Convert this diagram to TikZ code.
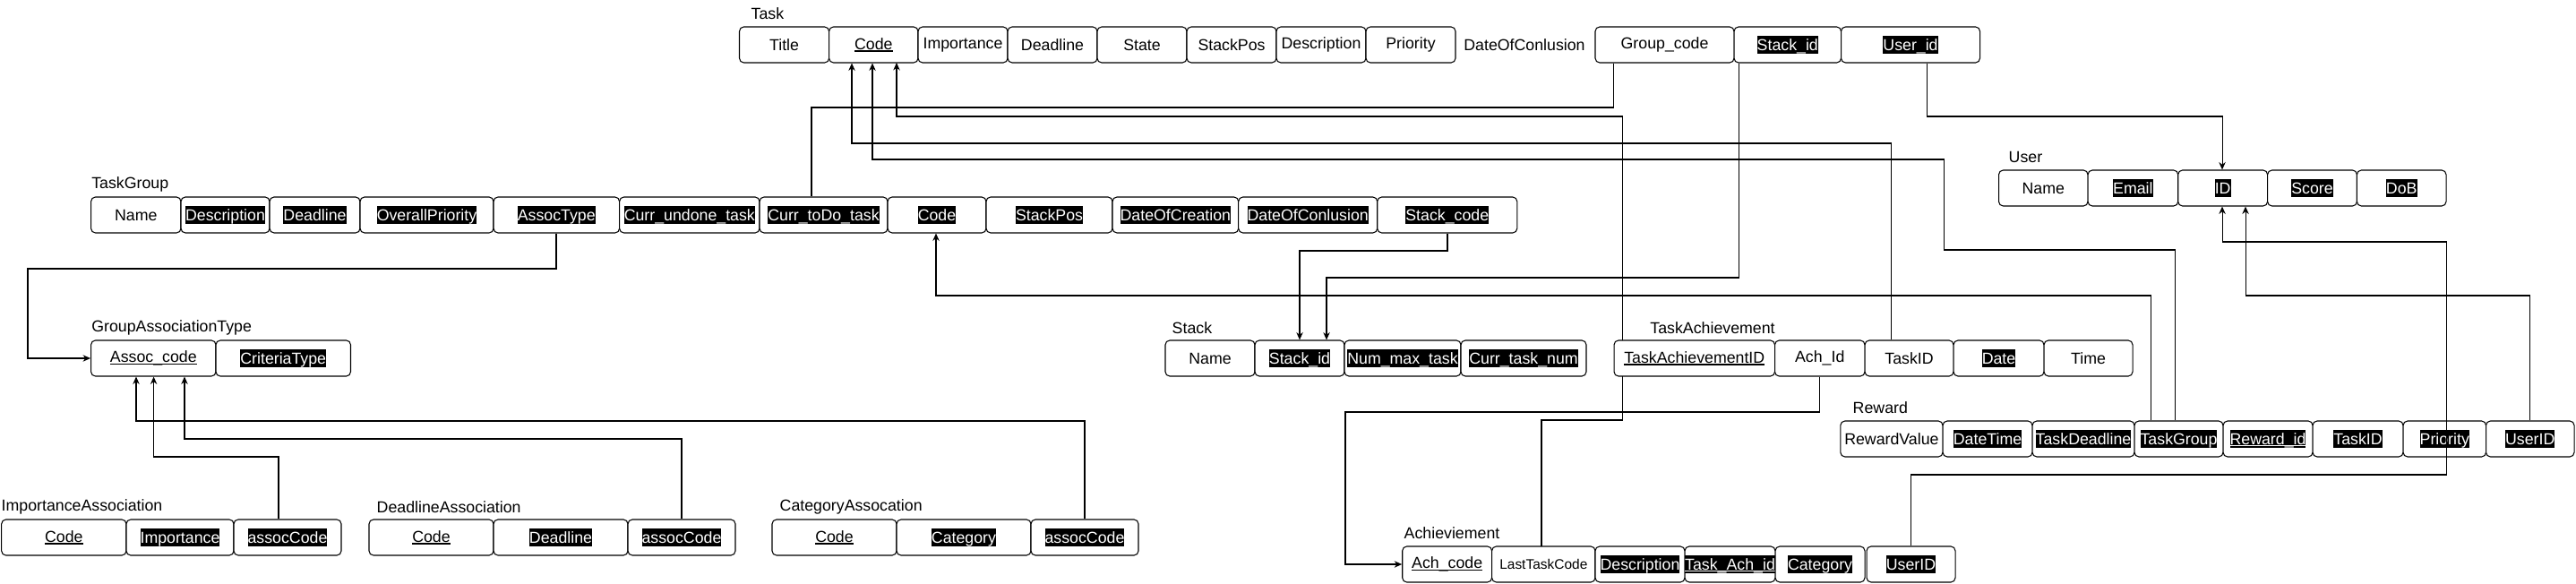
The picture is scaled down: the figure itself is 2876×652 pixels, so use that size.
\documentclass[tikz,border=0pt]{standalone}
\usepackage{fontspec}
\setmainfont{Liberation Sans}
\usetikzlibrary{arrows.meta}
\newdimen\pxu \pxu=0.01cm
\newcommand\fs{\fontsize{5.05pt}{6pt}\selectfont}
\newcommand\fss{\fontsize{4.4pt}{5.5pt}\selectfont}
\newsavebox\ulbox
\newcommand\ul[1]{\sbox\ulbox{#1}\rlap{\rule[-0.13em]{\wd\ulbox}{0.065em}}\usebox\ulbox}
\newcommand\hl[1]{{\setlength\fboxsep{0pt}\colorbox{black}{\textcolor{white}{\rule[-0.212em]{0pt}{1.117em}#1}}}}
\newcommand\fld[5]{\node[field, minimum width={(#3-#2)*\pxu}] (#1) at ({(#2+#3)/2},{#4+20}) {#5};}
\begin{document}
\begin{tikzpicture}[x=0.01cm, y=-0.01cm,
  field/.style={draw, line width=0.3pt, rounded corners=1.4pt, fill=white, inner sep=0pt, minimum height={40*\pxu}, font=\fs},
  lbl/.style={inner sep=0pt, anchor=west, font=\fs},
  conn/.style={line width=0.3pt},
  arr/.style={conn, -{Stealth[length=2.4pt,width=2.1pt]}}]
\useasboundingbox (0,0) rectangle (2876,652);

% ---------- labels ----------
\node[lbl] (lTask) at (838,15) {Task};
\node[lbl] (lGroup) at (101.6,206) {TaskGroup};
\node[lbl] (lAssoc) at (101.6,365.7) {GroupAssociationType};
\node[lbl] (lStack) at (1308,365.7) {Stack};
\node[lbl] (lTA) at (1841.7,365.7) {TaskAchievement};
\node[lbl] (lUser) at (2242,175) {User};
\node[lbl] (lReward) at (2068,455) {Reward};
\node[lbl] (lAch) at (1567,595) {Achieviement};
\node[lbl] (lImp) at (1,565.7) {ImportanceAssociation};
\node[lbl] (lDead) at (420,565.7) {DeadlineAssociation};
\node[lbl] (lCat) at (870,565.7) {CategoryAssocation};

% ---------- connector hidden behind a box ----------
\coordinate (pLast) at (1721,610);
\draw[arr] (pLast) |- (1811,469) |- (1001,130) -- (1001,70);

% ---------- Task ----------
\fld{tTitle}{825.5}{925.6}{30}{Title}
\fld{tCode}{925.6}{1025}{30}{\ul{Code}}
\fld{tImp}{1025}{1125}{30}{Importance}
\fld{tDead}{1125}{1225}{30}{Deadline}
\fld{tState}{1225}{1325}{30}{State}
\fld{tStackPos}{1325}{1425}{30}{StackPos}
\fld{tDesc}{1425}{1525}{30}{Description}
\fld{tPrio}{1525}{1625}{30}{Priority}
\node[inner sep=0pt, font=\fs] (tDoc) at (1702,50) {DateOfConlusion};
\fld{tGroup}{1781}{1936}{30}{Group\_code}
\fld{tStack}{1936}{2055.5}{30}{\hl{Stack\_id}}
\fld{tUser}{2055.5}{2210.5}{30}{\hl{User\_id}}

% ---------- TaskGroup ----------
\fld{gName}{101.6}{202}{220}{Name}
\fld{gDesc}{202}{301}{220}{\hl{Description}}
\fld{gDead}{301}{402}{220}{\hl{Deadline}}
\fld{gOver}{402}{551}{220}{\hl{OverallPriority}}
\fld{gAssoc}{551}{691.6}{220}{\hl{AssocType}}
\fld{gUndone}{691.6}{848}{220}{\hl{Curr\_undone\_task}}
\fld{gToDo}{848}{991}{220}{\hl{Curr\_toDo\_task}}
\fld{gCode}{991}{1101}{220}{\hl{Code}}
\fld{gStackPos}{1101}{1242}{220}{\hl{StackPos}}
\fld{gDoc}{1242}{1382.7}{220}{\hl{DateOfCreation}}
\fld{gDocl}{1382.7}{1537.7}{220}{\hl{DateOfConlusion}}
\fld{gStack}{1537.7}{1693.8}{220}{\hl{Stack\_code}}

% ---------- GroupAssociationType ----------
\fld{aCode}{101.6}{241}{380}{\ul{Assoc\_code}}
\fld{aCrit}{241}{391.5}{380}{\hl{CriteriaType}}

% ---------- Stack ----------
\fld{sName}{1301}{1401}{380}{Name}
\fld{sId}{1401}{1501}{380}{\hl{Stack\_id}}
\fld{sMax}{1501}{1631}{380}{\hl{Num\_max\_task}}
\fld{sCurr}{1631}{1771}{380}{\hl{Curr\_task\_num}}

% ---------- TaskAchievement ----------
\fld{taId}{1802}{1981.5}{380}{\ul{TaskAchievementID}}
\fld{taAch}{1981.5}{2082}{380}{Ach\_Id}
\fld{taTask}{2082}{2181}{380}{TaskID}
\fld{taDate}{2181}{2282}{380}{\hl{Date}}
\fld{taTime}{2282}{2381}{380}{Time}

% ---------- User ----------
\fld{uName}{2231.5}{2331}{190}{Name}
\fld{uEmail}{2331}{2431.7}{190}{\hl{Email}}
\fld{uId}{2431.7}{2531.6}{190}{\hl{ID}}
\fld{uScore}{2531.6}{2631.4}{190}{\hl{Score}}
\fld{uDob}{2631.4}{2731}{190}{\hl{DoB}}

% ---------- Reward ----------
\fld{rVal}{2054.8}{2169}{470}{RewardValue}
\fld{rDT}{2169}{2269}{470}{\hl{DateTime}}
\fld{rTD}{2269}{2383}{470}{\hl{TaskDeadline}}
\fld{rTG}{2383}{2482}{470}{\hl{TaskGroup}}
\fld{rId}{2482}{2582}{470}{\hl{\ul{Reward\_id}}}
\fld{rTask}{2582}{2683}{470}{\hl{TaskID}}
\fld{rPrio}{2683}{2775.5}{470}{\hl{Priority}}
\fld{rUser}{2775.5}{2874}{470}{\hl{UserID}}

% ---------- Achievement ----------
\fld{cCode}{1565.7}{1665.6}{610}{\ul{Ach\_code}}
\fld{cLast}{1665.6}{1781}{610}{\fss LastTaskCode}
\fld{cDesc}{1781}{1881}{610}{\hl{Description}}
\fld{cTask}{1881}{1982}{610}{\hl{\ul{Task\_Ach\_id}}}
\fld{cCat}{1982}{2082}{610}{\hl{Category}}
\fld{cUser}{2084}{2183}{610}{\hl{UserID}}

% ---------- bottom-left ----------
\fld{iCode}{1.7}{141}{580}{\ul{Code}}
\fld{iImp}{141}{261}{580}{\hl{Importance}}
\fld{iAssoc}{261}{381}{580}{\hl{assocCode}}
\fld{dCode}{412}{551}{580}{\ul{Code}}
\fld{dDead}{551}{701}{580}{\hl{Deadline}}
\fld{dAssoc}{701}{821}{580}{\hl{assocCode}}
\fld{kCode}{862}{1001}{580}{\ul{Code}}
\fld{kCat}{1001}{1151}{580}{\hl{Category}}
\fld{kAssoc}{1151}{1271}{580}{\hl{assocCode}}

% ---------- connectors ----------
\draw[conn] (1801,0 |- tGroup.south) |- (906,120) -- (906,0 |- gToDo.north);
\draw[arr] (2111,0 |- taTask.north) |- (951,160) -- (951,0 |- tCode.south);
\draw[arr] (2428,0 |- rTG.north) |- (2170,279) |- (974,178) -- (974,0 |- tCode.south);
\draw[arr] (1616,0 |- gStack.south) |- (1451,280) -- (1451,0 |- sId.north);
\draw[arr] (1941,0 |- tStack.south) |- (1481,310) -- (1481,0 |- sId.north);
\draw[arr] (2151,0 |- tUser.south) |- (2481,130) -- (2481,0 |- uId.north);
\draw[arr] (621,0 |- gAssoc.south) |- (31,300) |- (aCode.west);
\draw[arr] (2401,0 |- rTG.north) |- (1045,330) -- (1045,0 |- gCode.south);
\draw[arr] (kAssoc.north) |- (152,470) -- (152,0 |- aCode.south);
\draw[arr] (311,0 |- iAssoc.north) |- (171.6,510) -- (171.6,0 |- aCode.south);
\draw[arr] (dAssoc.north) |- (206,490) -- (206,0 |- aCode.south);
\draw[arr] (taAch.south) |- (1502,460) |- (cCode.west);
\draw[arr] (cUser.north) |- (2731,530) |- (2481,270) -- (2481,0 |- uId.south);
\draw[arr] (rUser.north) |- (2507,330) -- (2507,0 |- uId.south);
\end{tikzpicture}
\end{document}
